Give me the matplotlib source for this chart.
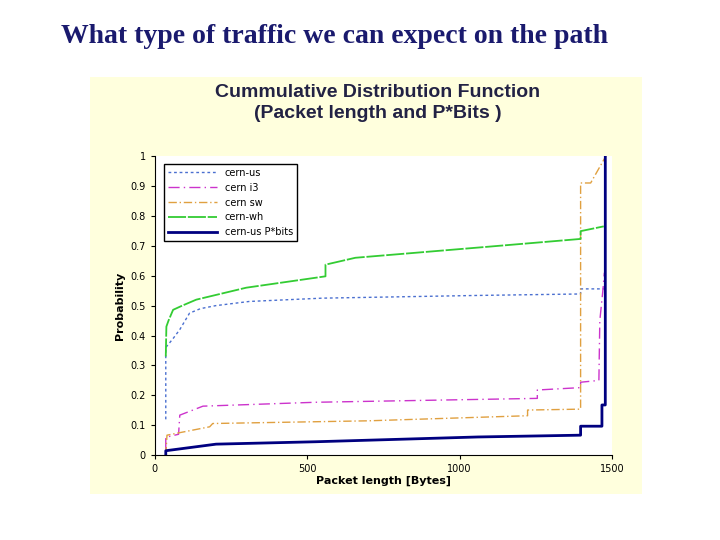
import matplotlib
matplotlib.use("Agg")
import matplotlib.pyplot as plt
from matplotlib.patches import Rectangle

# step-like CDF curves (x in bytes, y probability)
us_x = [36, 36, 60, 82, 114, 150, 200, 310, 549, 1054, 1397, 1397, 1475]
us_y = [0.12, 0.36, 0.39, 0.42, 0.475, 0.49, 0.50, 0.514, 0.525, 0.534, 0.539, 0.556, 0.556]
i3_x = [36, 36, 78, 82, 110, 158, 527, 1255, 1255, 1397, 1397, 1457, 1460, 1470, 1475]
i3_y = [0.02, 0.06, 0.07, 0.134, 0.145, 0.164, 0.177, 0.19, 0.218, 0.226, 0.244, 0.25, 0.45, 0.55, 0.61]
sw_x = [36, 40, 180, 190, 700, 1223, 1223, 1397, 1397, 1430, 1480]
sw_y = [0.0, 0.067, 0.095, 0.106, 0.115, 0.132, 0.151, 0.154, 0.91, 0.91, 1.0]
wh_x = [36, 38, 45, 60, 90, 136, 300, 560, 560, 658, 1071, 1397, 1397, 1473]
wh_y = [0.33, 0.43, 0.45, 0.486, 0.50, 0.52, 0.56, 0.598, 0.637, 0.66, 0.695, 0.723, 0.749, 0.765]
pb_x = [36, 36, 201, 527, 1060, 1397, 1397, 1467, 1467, 1478, 1478]
pb_y = [0.0, 0.015, 0.037, 0.045, 0.061, 0.067, 0.097, 0.097, 0.168, 0.168, 1.0]

fig = plt.figure(figsize=(7.2, 5.4), dpi=100)
fig.patches.append(Rectangle((0.125, 0.085), 0.767, 0.772, transform=fig.transFigure,
                             facecolor="#FFFFDD", edgecolor="none", zorder=-10))
fig.text(0.085, 0.932, "What type of traffic we can expect on the path", ha="left",
         va="center", fontsize=20, family="Liberation Serif", fontweight="bold",
         color="#1a1a6e")
fig.text(0.525, 0.81, "Cummulative Distribution Function\n(Packet length and P*Bits )",
         ha="center", va="center", fontsize=14, fontweight="bold", color="#222244",
         family="Liberation Sans", linespacing=1.3)

ax = fig.add_axes([0.215, 0.157, 0.635, 0.554])
ax.set_facecolor("white")
ax.plot(us_x, us_y, color="#4a6fd0", ls=(0, (2, 2)), lw=1, label="cern-us")
ax.plot(i3_x, i3_y, color="#cc33cc", ls=(0, (8, 3, 1, 3)), lw=1, label="cern i3")
ax.plot(sw_x, sw_y, color="#e0a040", ls=(0, (6, 2, 1, 2)), lw=1, label="cern sw")
ax.plot(wh_x, wh_y, color="#33cc33", ls=(0, (10, 1)), lw=1.3, label="cern-wh")
ax.plot(pb_x, pb_y, color="#000080", lw=2, label="cern-us P*bits")
ax.set_xlim(0, 1500)
ax.set_ylim(0, 1)
ax.set_xticks([0, 500, 1000, 1500])
ax.set_yticks([i / 10 for i in range(11)])
ax.set_yticklabels(["0"] + [f"0.{i}" for i in range(1, 10)] + ["1"])
ax.tick_params(labelsize=7, length=3)
for s in ["top", "right"]:
    ax.spines[s].set_visible(False)
ax.set_xlabel("Packet length [Bytes]", fontsize=8, fontweight="bold", labelpad=1)
ax.set_ylabel("Probability", fontsize=8, fontweight="bold")
leg = ax.legend(loc="upper left", fontsize=7, fancybox=False, edgecolor="black",
                framealpha=1, handlelength=5, bbox_to_anchor=(0.01, 0.99))
plt.savefig("out.png", dpi=100)
